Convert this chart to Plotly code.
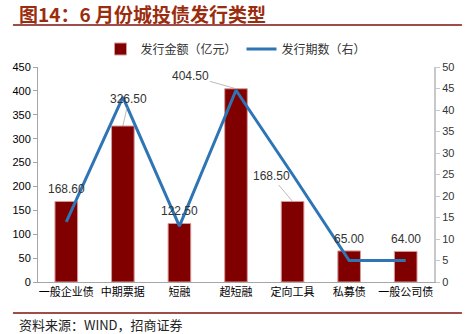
import plotly.graph_objects as go

categories = ["一般企业债", "中期票据", "短融", "超短融", "定向工具", "私募债", "一般公司债"]
amount = [168.60, 326.50, 122.50, 404.50, 168.50, 65.00, 64.00]
count = [14, 43, 13, 44.6, 25, 5, 5]
left_ticks = list(range(0, 451, 50))
right_ticks = list(range(0, 51, 5))

BAR = "#800000"
LINE = "#2E75B6"
TITLE_C = "#9B2D0F"
FONT = "Liberation Sans, Noto Sans CJK SC, sans-serif"
CJK = "Noto Sans CJK SC, sans-serif"

fig = go.Figure()
fig.add_trace(go.Bar(x=categories, y=amount, name="发行金额（亿元）", marker=dict(color=BAR, line=dict(color="#D79A9A", width=1)),
                     width=0.4, yaxis="y"))
fig.add_trace(go.Scatter(x=categories, y=count, name="发行期数（右）", mode="lines",
                         line=dict(color=LINE, width=3), yaxis="y2"))

# label offsets (px): (dx, dy)
offsets = {1: (6, -27), 3: (-46, -13), 4: (-21, -25)}
for i, (c, v) in enumerate(zip(categories, amount)):
    txt = f"{v:.2f}"
    if i in offsets:
        dx, dy = offsets[i]
        fig.add_annotation(x=c, y=v, xref="x", yref="y", text=txt, showarrow=True, arrowhead=0,
                           arrowwidth=0.8, arrowcolor="#AAAAAA", ax=dx, ay=dy, standoff=0,
                           font=dict(family=FONT, size=12, color="#333333"))
    else:
        fig.add_annotation(x=c, y=v, xref="x", yref="y", text=txt, showarrow=False, yshift=12,
                           font=dict(family=FONT, size=12, color="#333333"))

fig.update_layout(
    width=466, height=334, margin=dict(l=26, r=29, t=67, b=52),
    paper_bgcolor="white", plot_bgcolor="white",
    bargap=0.6,
    xaxis=dict(showline=True, linecolor="#A6A6A6", linewidth=1, ticks="", showgrid=False,
               tickfont=dict(family=CJK, size=11, color="#000000"), tickangle=0),
    yaxis=dict(range=[0, 450], tickvals=left_ticks, showgrid=False, showline=True, linecolor="#A6A6A6",
               ticks="outside", ticklen=4, tickcolor="#A6A6A6", zeroline=False,
               tickfont=dict(family=FONT, size=11, color="#000000")),
    yaxis2=dict(range=[0, 50], tickvals=right_ticks, overlaying="y", side="right", showgrid=False,
                showline=True, linecolor="#C8C8C8", linewidth=2, ticks="outside", ticklen=4, tickcolor="#C8C8C8",
                zeroline=False, tickfont=dict(family=FONT, size=11, color="#333333")),
    legend=dict(orientation="h", x=0.5, xanchor="center", y=1 + (67 - 49) / 215, yanchor="middle",
                font=dict(family=CJK, size=12, color="#333333"), itemwidth=30, traceorder="normal"),
    showlegend=True,
)

fig.add_annotation(text="<b>图14：6 月份城投债发行类型</b>", xref="paper", yref="paper", x=-26/411, y=1 + (67 - 13) / 215,
                   xanchor="left", yanchor="middle", showarrow=False, xshift=4,
                   font=dict(family=CJK, size=19, color=TITLE_C))
fig.add_shape(type="line", xref="paper", yref="paper", x0=-26/411, x1=1 + 29/411, y0=1 + (67 - 25) / 215,
              y1=1 + (67 - 25) / 215, line=dict(color="#7F1010", width=1.5))
fig.add_shape(type="line", xref="paper", yref="paper", x0=-26/411, x1=1 + 29/411, y0=-(313 - 282) / 215,
              y1=-(313 - 282) / 215, line=dict(color="#7F1010", width=1.5))
fig.add_annotation(text="资料来源：WIND，招商证券", xref="paper", yref="paper", x=-26/411, y=-(324 - 282) / 215,
                   xanchor="left", yanchor="middle", showarrow=False, xshift=4,
                   font=dict(family=CJK, size=13, color="#222222"))

fig.write_html("out.html")
